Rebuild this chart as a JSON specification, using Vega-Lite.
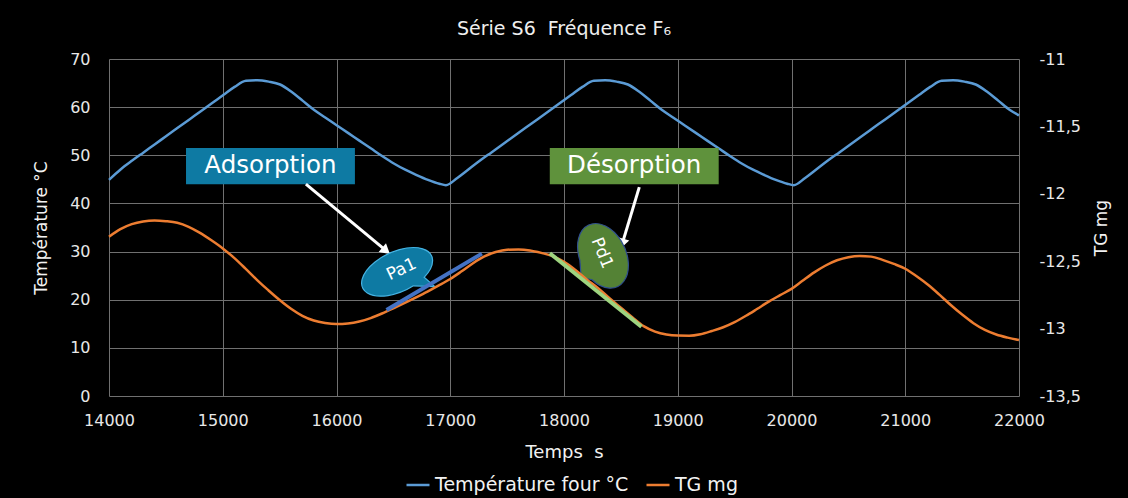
{
  "$schema": "https://vega.github.io/schema/vega-lite/v6.json",
  "width": 910,
  "height": 337,
  "autosize": {"type": "none"},
  "padding": {"left": 109, "top": 59, "right": 109, "bottom": 102},
  "background": "#000000",
  "title": {"text": "Série S6\u00a0\u00a0Fréquence F₆", "fontSize": 19, "fontWeight": "normal", "color": "#eeeeee", "offset": 12, "font": "DejaVu Sans"},
  "config": {
    "view": {"stroke": null},
    "font": "DejaVu Sans",
    "axis": {"domain": false, "ticks": false, "labelFlush": false, "gridColor": "#707070", "gridWidth": 1, "labelColor": "#e8e8e8", "titleColor": "#f2f2f2", "labelFontSize": 16, "titleFontSize": 17, "titleFontWeight": "normal", "labelFont": "DejaVu Sans", "titleFont": "DejaVu Sans"}
  },
  "datasets": {
    "temp": [
      {"t": 14000, "T": 44.9}, {"t": 14104, "T": 47.1}, {"t": 14204, "T": 48.9}, {"t": 14304, "T": 50.6}, {"t": 14404, "T": 52.3},
      {"t": 14504, "T": 54.0}, {"t": 14604, "T": 55.7}, {"t": 14704, "T": 57.4}, {"t": 14804, "T": 59.1}, {"t": 14904, "T": 60.8},
      {"t": 15004, "T": 62.5}, {"t": 15104, "T": 64.2}, {"t": 15204, "T": 65.5}, {"t": 15304, "T": 65.6}, {"t": 15404, "T": 65.3},
      {"t": 15504, "T": 64.7}, {"t": 15604, "T": 63.2}, {"t": 15704, "T": 61.3}, {"t": 15804, "T": 59.4}, {"t": 15904, "T": 57.8},
      {"t": 16004, "T": 56.2}, {"t": 16104, "T": 54.6}, {"t": 16204, "T": 53.0}, {"t": 16304, "T": 51.4}, {"t": 16404, "T": 49.8},
      {"t": 16504, "T": 48.3}, {"t": 16604, "T": 47.0}, {"t": 16704, "T": 45.9}, {"t": 16804, "T": 44.9}, {"t": 16904, "T": 44.1},
      {"t": 16962, "T": 43.8}, {"t": 17062, "T": 45.3}, {"t": 17162, "T": 47.1}, {"t": 17262, "T": 48.9}, {"t": 17362, "T": 50.6},
      {"t": 17462, "T": 52.3}, {"t": 17562, "T": 54.0}, {"t": 17662, "T": 55.7}, {"t": 17762, "T": 57.4}, {"t": 17862, "T": 59.1},
      {"t": 17962, "T": 60.8}, {"t": 18062, "T": 62.5}, {"t": 18162, "T": 64.2}, {"t": 18262, "T": 65.5}, {"t": 18362, "T": 65.6},
      {"t": 18462, "T": 65.3}, {"t": 18562, "T": 64.7}, {"t": 18662, "T": 63.2}, {"t": 18762, "T": 61.3}, {"t": 18862, "T": 59.4},
      {"t": 18962, "T": 57.8}, {"t": 19062, "T": 56.2}, {"t": 19162, "T": 54.6}, {"t": 19262, "T": 53.0}, {"t": 19362, "T": 51.4},
      {"t": 19462, "T": 49.8}, {"t": 19562, "T": 48.3}, {"t": 19662, "T": 47.0}, {"t": 19762, "T": 45.9}, {"t": 19862, "T": 44.9},
      {"t": 19962, "T": 44.1}, {"t": 20020, "T": 43.8}, {"t": 20120, "T": 45.3}, {"t": 20220, "T": 47.1}, {"t": 20320, "T": 48.9},
      {"t": 20420, "T": 50.6}, {"t": 20520, "T": 52.3}, {"t": 20620, "T": 54.0}, {"t": 20720, "T": 55.7}, {"t": 20820, "T": 57.4},
      {"t": 20920, "T": 59.1}, {"t": 21020, "T": 60.8}, {"t": 21120, "T": 62.5}, {"t": 21220, "T": 64.2}, {"t": 21320, "T": 65.5},
      {"t": 21420, "T": 65.6}, {"t": 21520, "T": 65.3}, {"t": 21620, "T": 64.7}, {"t": 21720, "T": 63.2}, {"t": 21820, "T": 61.3},
      {"t": 21920, "T": 59.4}, {"t": 22000, "T": 58.3}
    ],
    "tg": [
      {"t": 14000, "tg": -12.318}, {"t": 14100, "tg": -12.262}, {"t": 14200, "tg": -12.225}, {"t": 14300, "tg": -12.205}, {"t": 14400, "tg": -12.198},
      {"t": 14500, "tg": -12.203}, {"t": 14600, "tg": -12.215}, {"t": 14700, "tg": -12.245}, {"t": 14800, "tg": -12.29}, {"t": 14900, "tg": -12.345},
      {"t": 15000, "tg": -12.405}, {"t": 15100, "tg": -12.475}, {"t": 15200, "tg": -12.555}, {"t": 15300, "tg": -12.638}, {"t": 15400, "tg": -12.715},
      {"t": 15500, "tg": -12.788}, {"t": 15600, "tg": -12.853}, {"t": 15700, "tg": -12.905}, {"t": 15800, "tg": -12.94}, {"t": 15900, "tg": -12.958},
      {"t": 16000, "tg": -12.966}, {"t": 16100, "tg": -12.962}, {"t": 16200, "tg": -12.948}, {"t": 16300, "tg": -12.922}, {"t": 16400, "tg": -12.888},
      {"t": 16500, "tg": -12.85}, {"t": 16600, "tg": -12.81}, {"t": 16700, "tg": -12.768}, {"t": 16800, "tg": -12.725}, {"t": 16900, "tg": -12.68},
      {"t": 17000, "tg": -12.632}, {"t": 17100, "tg": -12.575}, {"t": 17200, "tg": -12.515}, {"t": 17300, "tg": -12.465}, {"t": 17400, "tg": -12.432},
      {"t": 17500, "tg": -12.415}, {"t": 17600, "tg": -12.413}, {"t": 17700, "tg": -12.42}, {"t": 17800, "tg": -12.438}, {"t": 17900, "tg": -12.462},
      {"t": 18000, "tg": -12.505}, {"t": 18100, "tg": -12.565}, {"t": 18200, "tg": -12.635}, {"t": 18300, "tg": -12.7}, {"t": 18400, "tg": -12.775},
      {"t": 18500, "tg": -12.845}, {"t": 18600, "tg": -12.915}, {"t": 18700, "tg": -12.982}, {"t": 18800, "tg": -13.022}, {"t": 18900, "tg": -13.044},
      {"t": 19000, "tg": -13.052}, {"t": 19100, "tg": -13.053}, {"t": 19200, "tg": -13.042}, {"t": 19300, "tg": -13.018}, {"t": 19400, "tg": -12.99},
      {"t": 19500, "tg": -12.952}, {"t": 19600, "tg": -12.905}, {"t": 19700, "tg": -12.853}, {"t": 19800, "tg": -12.8}, {"t": 19900, "tg": -12.752},
      {"t": 20000, "tg": -12.705}, {"t": 20100, "tg": -12.643}, {"t": 20200, "tg": -12.583}, {"t": 20300, "tg": -12.532}, {"t": 20400, "tg": -12.493},
      {"t": 20500, "tg": -12.47}, {"t": 20600, "tg": -12.461}, {"t": 20700, "tg": -12.466}, {"t": 20800, "tg": -12.49}, {"t": 20900, "tg": -12.52},
      {"t": 21000, "tg": -12.556}, {"t": 21100, "tg": -12.612}, {"t": 21200, "tg": -12.675}, {"t": 21300, "tg": -12.748}, {"t": 21400, "tg": -12.825},
      {"t": 21500, "tg": -12.896}, {"t": 21600, "tg": -12.96}, {"t": 21700, "tg": -13.01}, {"t": 21800, "tg": -13.044}, {"t": 21900, "tg": -13.067},
      {"t": 22000, "tg": -13.085}
    ],
    "fitA": [{"t": 16440, "tg": -12.862}, {"t": 17278, "tg": -12.444}],
    "fitD": [{"t": 17875, "tg": -12.441}, {"t": 18681, "tg": -12.986}],
    "boxes": [
      {"label": "Adsorption", "t1": 14677, "t2": 16162, "T1": 44.0, "T2": 51.5, "tc": 15419, "Tc": 47.7},
      {"label": "Désorption", "t1": 17875, "t2": 19360, "T1": 44.0, "T2": 51.5, "tc": 18617, "Tc": 47.7}
    ],
    "arrows": [
      {"name": "A", "t1": 15731, "T1": 44.0, "t2": 16425, "T2": 30.4},
      {"name": "D", "t1": 18662, "T1": 43.4, "t2": 18517, "T2": 32.0}
    ],
    "bubbles": [
      {"label": "Pa1", "t": 16572, "T": 26.3},
      {"label": "Pd1", "t": 18343, "T": 29.1}
    ]
  },
  "layer": [
    {
      "layer": [
        {
          "data": {"name": "temp"},
          "mark": {"type": "line", "strokeWidth": 2.5, "interpolate": "monotone"},
          "encoding": {
            "x": {"field": "t", "type": "quantitative", "scale": {"domain": [14000, 22000], "nice": false, "zero": false},
                  "axis": {"values": [14000, 15000, 16000, 17000, 18000, 19000, 20000, 21000, 22000], "format": "d", "title": "Temps\u00a0\u00a0s", "labelPadding": 16, "titlePadding": 15, "titleFontSize": 18, "grid": true}},
            "y": {"field": "T", "type": "quantitative", "scale": {"domain": [0, 70], "nice": false, "zero": false},
                  "axis": {"values": [0, 10, 20, 30, 40, 50, 60, 70], "format": "d", "title": "Température °C", "labelPadding": 19, "titlePadding": 19, "grid": true}},
            "color": {"datum": "Température four °C", "type": "nominal",
                      "scale": {"domain": ["Température four °C", "TG mg"], "range": ["#5b9bd5", "#ed7d31"]},
                      "legend": {"orient": "none", "legendX": 296, "legendY": 413, "direction": "horizontal", "title": null, "symbolType": "stroke", "symbolSize": 529, "symbolStrokeWidth": 2.5, "labelFontSize": 19, "labelLimit": 400, "labelColor": "#f2f2f2", "labelFont": "DejaVu Sans", "columnPadding": 12, "labelOffset": 4}}
          }
        },
        {
          "data": {"name": "boxes"},
          "transform": [{"filter": "datum.label == 'Adsorption'"}],
          "mark": {"type": "rect", "fill": "#0e7aa3"},
          "encoding": {
            "x": {"field": "t1", "type": "quantitative", "scale": {"domain": [14000, 22000], "nice": false, "zero": false}, "axis": null}, "x2": {"field": "t2"},
            "y": {"field": "T1", "type": "quantitative", "scale": {"domain": [0, 70], "nice": false, "zero": false}, "axis": null}, "y2": {"field": "T2"}
          }
        },
        {
          "data": {"name": "boxes"},
          "transform": [{"filter": "datum.label == 'Désorption'"}],
          "mark": {"type": "rect", "fill": "#5f923c"},
          "encoding": {
            "x": {"field": "t1", "type": "quantitative", "scale": {"domain": [14000, 22000], "nice": false, "zero": false}, "axis": null}, "x2": {"field": "t2"},
            "y": {"field": "T1", "type": "quantitative", "scale": {"domain": [0, 70], "nice": false, "zero": false}, "axis": null}, "y2": {"field": "T2"}
          }
        },
        {
          "data": {"name": "boxes"},
          "mark": {"type": "text", "color": "#ffffff", "fontSize": 24.5, "baseline": "middle", "align": "center", "font": "DejaVu Sans"},
          "encoding": {
            "x": {"field": "tc", "type": "quantitative", "scale": {"domain": [14000, 22000], "nice": false, "zero": false}, "axis": null},
            "y": {"field": "Tc", "type": "quantitative", "scale": {"domain": [0, 70], "nice": false, "zero": false}, "axis": null},
            "text": {"field": "label"}
          }
        },
        {
          "data": {"name": "arrows"},
          "mark": {"type": "rule", "color": "#ffffff", "strokeWidth": 3},
          "encoding": {
            "x": {"field": "t1", "type": "quantitative", "scale": {"domain": [14000, 22000], "nice": false, "zero": false}, "axis": null}, "x2": {"field": "t2"},
            "y": {"field": "T1", "type": "quantitative", "scale": {"domain": [0, 70], "nice": false, "zero": false}, "axis": null}, "y2": {"field": "T2"}
          }
        },
        {
          "data": {"name": "arrows"},
          "transform": [{"filter": "datum.name == 'A'"}],
          "mark": {"type": "point", "shape": "triangle", "filled": true, "color": "#ffffff", "opacity": 1, "size": 130, "angle": 130},
          "encoding": {
            "x": {"field": "t2", "type": "quantitative", "scale": {"domain": [14000, 22000], "nice": false, "zero": false}, "axis": null},
            "y": {"field": "T2", "type": "quantitative", "scale": {"domain": [0, 70], "nice": false, "zero": false}, "axis": null}
          }
        },
        {
          "data": {"name": "arrows"},
          "transform": [{"filter": "datum.name == 'D'"}],
          "mark": {"type": "point", "shape": "triangle", "filled": true, "color": "#ffffff", "opacity": 1, "size": 130, "angle": 197},
          "encoding": {
            "x": {"field": "t2", "type": "quantitative", "scale": {"domain": [14000, 22000], "nice": false, "zero": false}, "axis": null},
            "y": {"field": "T2", "type": "quantitative", "scale": {"domain": [0, 70], "nice": false, "zero": false}, "axis": null}
          }
        },
        {
          "data": {"name": "bubbles"},
          "transform": [{"filter": "datum.label == 'Pa1'"}],
          "mark": {"type": "point", "shape": "M0.45,0.44A1,0.53,0,1,0,0.1,0.525L0.6,0.78Z", "filled": true, "fill": "#0e7aa3", "stroke": "#45b3e3", "strokeWidth": 1.2, "opacity": 1, "size": 5776, "angle": 335},
          "encoding": {
            "x": {"field": "t", "type": "quantitative", "scale": {"domain": [14000, 22000], "nice": false, "zero": false}, "axis": null},
            "y": {"field": "T", "type": "quantitative", "scale": {"domain": [0, 70], "nice": false, "zero": false}, "axis": null}
          }
        },
        {
          "data": {"name": "bubbles"},
          "transform": [{"filter": "datum.label == 'Pd1'"}],
          "mark": {"type": "point", "shape": "M0.5,0.589A1,0.68,0,1,0,-0.174,0.67L0.3,0.85Z", "filled": true, "fill": "#548235", "stroke": "#2f4f8f", "strokeWidth": 1.2, "opacity": 1, "size": 4624, "angle": 65},
          "encoding": {
            "x": {"field": "t", "type": "quantitative", "scale": {"domain": [14000, 22000], "nice": false, "zero": false}, "axis": null},
            "y": {"field": "T", "type": "quantitative", "scale": {"domain": [0, 70], "nice": false, "zero": false}, "axis": null}
          }
        },
        {
          "data": {"name": "bubbles"},
          "transform": [{"filter": "datum.label == 'Pa1'"}],
          "mark": {"type": "text", "color": "#ffffff", "fontSize": 17, "angle": 335, "align": "center", "baseline": "middle", "font": "DejaVu Sans"},
          "encoding": {
            "x": {"field": "t", "type": "quantitative", "scale": {"domain": [14000, 22000], "nice": false, "zero": false}, "axis": null},
            "y": {"field": "T", "type": "quantitative", "scale": {"domain": [0, 70], "nice": false, "zero": false}, "axis": null},
            "text": {"field": "label"}
          }
        },
        {
          "data": {"name": "bubbles"},
          "transform": [{"filter": "datum.label == 'Pd1'"}],
          "mark": {"type": "text", "color": "#ffffff", "fontSize": 17, "angle": 68, "align": "center", "baseline": "middle", "font": "DejaVu Sans", "dx": -3},
          "encoding": {
            "x": {"field": "t", "type": "quantitative", "scale": {"domain": [14000, 22000], "nice": false, "zero": false}, "axis": null},
            "y": {"field": "T", "type": "quantitative", "scale": {"domain": [0, 70], "nice": false, "zero": false}, "axis": null},
            "text": {"field": "label"}
          }
        }
      ],
      "resolve": {"axis": {"x": "independent", "y": "independent"}}
    },
    {
      "layer": [
        {
          "data": {"name": "tg"},
          "mark": {"type": "line", "strokeWidth": 2.5, "interpolate": "monotone"},
          "encoding": {
            "x": {"field": "t", "type": "quantitative", "scale": {"domain": [14000, 22000], "nice": false, "zero": false}, "axis": null},
            "y": {"field": "tg", "type": "quantitative", "scale": {"domain": [-13.5, -11], "nice": false, "zero": false},
                  "axis": {"orient": "right", "values": [-13.5, -13, -12.5, -12, -11.5, -11], "labelExpr": "replace(toString(datum.value), '.', ',')", "title": "TG mg", "titleAngle": 270, "labelPadding": 20, "titlePadding": 30, "grid": false}},
            "color": {"datum": "TG mg", "type": "nominal"}
          }
        },
        {
          "data": {"name": "fitA"},
          "mark": {"type": "line", "strokeWidth": 4, "color": "#4472c4"},
          "encoding": {
            "x": {"field": "t", "type": "quantitative", "scale": {"domain": [14000, 22000], "nice": false, "zero": false}, "axis": null},
            "y": {"field": "tg", "type": "quantitative", "scale": {"domain": [-13.5, -11], "nice": false, "zero": false}, "axis": null}
          }
        },
        {
          "data": {"name": "fitD"},
          "mark": {"type": "line", "strokeWidth": 4, "color": "#9ed47f"},
          "encoding": {
            "x": {"field": "t", "type": "quantitative", "scale": {"domain": [14000, 22000], "nice": false, "zero": false}, "axis": null},
            "y": {"field": "tg", "type": "quantitative", "scale": {"domain": [-13.5, -11], "nice": false, "zero": false}, "axis": null}
          }
        }
      ],
      "resolve": {"axis": {"x": "independent", "y": "independent"}}
    }
  ],
  "resolve": {"scale": {"y": "independent"}, "axis": {"x": "independent", "y": "independent"}}
}
